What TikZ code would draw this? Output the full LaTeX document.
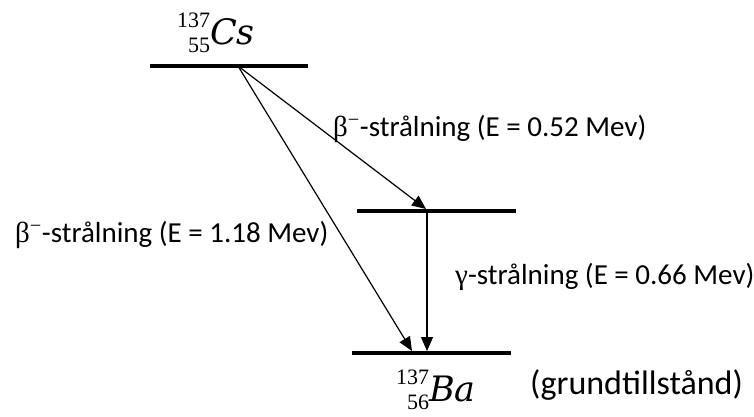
\documentclass[tikz,border=0pt]{standalone}
\usepackage{fontspec}
\setmainfont{Carlito}
\newfontfamily\greekfont{Liberation Serif}
\newfontfamily\nucfont{Liberation Serif}
\newfontfamily\nucsymfont{DejaVu Serif}
\usetikzlibrary{arrows.meta, positioning}
\newcommand{\betaminus}{{\greekfont β}\textsuperscript{\greekfont −}}
% mass number over charge number, then the symbol
\newcommand{\nuc}[3]{{\nucfont\raisebox{-8pt}{\fontsize{22}{25}\selectfont
  \begin{tabular}[b]{@{}r@{}}#1\\#2\end{tabular}}\nucsymfont\fontsize{35}{40}\selectfont\itshape #3}}
\tikzset{
  every picture/.style={x=1pt, y=1pt},
  level/.style={line width=3.5pt},
  arrow/.style={-{Triangle[length=14pt, width=12pt]}, line width=1.2pt},
  note/.style={font=\fontsize{29}{34}\selectfont, inner sep=0pt},
  nuclide/.style={inner sep=0pt, anchor=base},
}

\begin{document}
\begin{tikzpicture}
  \useasboundingbox (0,0) rectangle (754,416);
  % energy levels
  \coordinate (csL) at (150,350);
  \coordinate (csR) at (308,350);
  \coordinate (midL) at (357,205);
  \coordinate (midR) at (516,205);
  \coordinate (baL) at (352,63);
  \coordinate (baR) at (511,63);
  \draw[level] (csL) -- (csR);
  \draw[level] (midL) -- (midR);
  \draw[level] (baL) -- (baR);
  % arrow ends
  \coordinate (src) at (238,350);
  \coordinate (midhit) at (426,207);
  \coordinate (midsrc) at (427,205);
  \coordinate (bahit1) at (412,65);
  \coordinate (bahit2) at (427,65);
  \draw[arrow] (src) -- (midhit);
  \draw[arrow] (src) -- (bahit1);
  \draw[arrow] (midsrc) -- (bahit2);
  % labels
  \node[nuclide] (cs) at (216,371) {\nuc{137}{55}{Cs}};
  \node[nuclide] (ba) at (436,15) {\nuc{137}{56}{Ba}};
  \node[note, font=\fontsize{34}{38}\selectfont, anchor=base west] (ground) at (530,22) {(grundtillstånd)};
  \node[note, anchor=base west] (beta1) at (333,280) {\betaminus-strålning (E = 0.52 Mev)};
  \node[note, anchor=base west] (beta2) at (15,174) {\betaminus-strålning (E = 1.18 Mev)};
  \node[note, anchor=base west] (gamma) at (455,132) {{\greekfont γ}-strålning (E = 0.66 Mev)};
\end{tikzpicture}
\end{document}
